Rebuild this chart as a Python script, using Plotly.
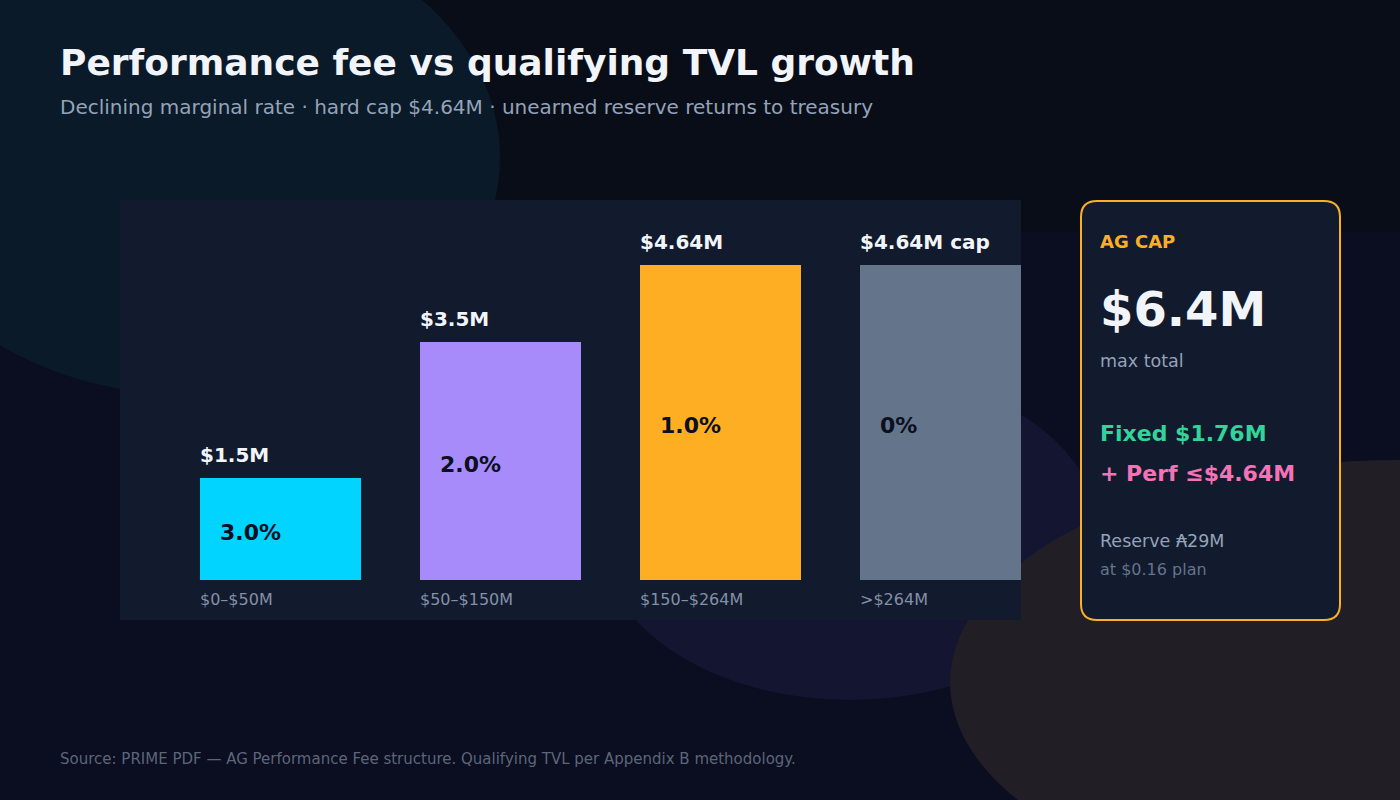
import plotly.graph_objects as go

# ---------------- data ----------------
tiers = ["$0–$50M", "$50–$150M", "$150–$264M", ">$264M"]
cum_fee_m = [1.5, 3.5, 4.64, 4.64]
value_labels = ["$1.5M", "$3.5M", "$4.64M", "$4.64M cap"]
marginal_rates = ["3.0%", "2.0%", "1.0%", "0%"]
bar_colors = ["#00d4ff", "#a78bfa", "#fdae22", "#64748b"]

card_title = "AG CAP"
card_total = "$6.4M"
card_total_sub = "max total"
card_fixed = "Fixed $1.76M"
card_perf = "+ Perf ≤$4.64M"
card_reserve = "Reserve ₳29M"
card_reserve_sub = "at $0.16 plan"

title = "Performance fee vs qualifying TVL growth"
subtitle = "Declining marginal rate · hard cap $4.64M · unearned reserve returns to treasury"
footer = "Source: PRIME PDF — AG Performance Fee structure. Qualifying TVL per Appendix B methodology."

# ---------------- layout helpers ----------------
W, H = 1400, 800
FONT = "DejaVu Sans"


def px(x):
    return x / W


def py(y):
    return 1 - y / H


x_pos = list(range(len(tiers)))
bar_w = 0.732

fig = go.Figure(
    go.Bar(
        x=x_pos,
        y=cum_fee_m,
        width=bar_w,
        marker=dict(color=bar_colors, line=dict(width=0)),
        hoverinfo="skip",
    )
)

shapes = []
# background band
shapes.append(dict(type="rect", xref="paper", yref="paper", x0=0, x1=1, y0=py(800), y1=py(232),
                   fillcolor="#0b0d20", line=dict(width=0), layer="below"))
# teal blob
shapes.append(dict(type="circle", xref="paper", yref="paper", x0=px(-120), x1=px(500), y0=py(395), y1=py(-80),
                   fillcolor="#0a1a29", line=dict(width=0), layer="below"))
# purple blob
shapes.append(dict(type="circle", xref="paper", yref="paper", x0=px(600), x1=px(1100), y0=py(700), y1=py(370),
                   fillcolor="#141530", line=dict(width=0), layer="below"))
# brown blob
shapes.append(dict(type="circle", xref="paper", yref="paper", x0=px(950), x1=px(1850), y0=py(905), y1=py(460),
                   fillcolor="#211e26", line=dict(width=0), layer="below"))
# chart panel
shapes.append(dict(type="rect", xref="paper", yref="paper", x0=px(120), x1=px(1021), y0=py(620), y1=py(200),
                   fillcolor="#121a2e", line=dict(width=0), layer="below"))

# card rounded rect
cx0, cy0, cx1, cy1, r = 1081, 201, 1340, 620, 16
path = (
    f"M {px(cx0 + r)} {py(cy0)} L {px(cx1 - r)} {py(cy0)} "
    f"Q {px(cx1)} {py(cy0)} {px(cx1)} {py(cy0 + r)} "
    f"L {px(cx1)} {py(cy1 - r)} Q {px(cx1)} {py(cy1)} {px(cx1 - r)} {py(cy1)} "
    f"L {px(cx0 + r)} {py(cy1)} Q {px(cx0)} {py(cy1)} {px(cx0)} {py(cy1 - r)} "
    f"L {px(cx0)} {py(cy0 + r)} Q {px(cx0)} {py(cy0)} {px(cx0 + r)} {py(cy0)} Z"
)
shapes.append(dict(type="path", xref="paper", yref="paper", path=path,
                   fillcolor="#121a2e", line=dict(color="#fbaf24", width=2), layer="below"))

annotations = []


def txt(x, y, text, size, color, bold=False):
    annotations.append(dict(
        xref="paper", yref="paper", x=px(x), y=py(y), text=(f"<b>{text}</b>" if bold else text),
        showarrow=False, xanchor="left", yanchor="middle",
        font=dict(family=FONT, size=size, color=color),
    ))


txt(58, 62, title, 36, "#f1f5f9", bold=True)
txt(58, 107, subtitle, 20, "#94a3b8")
txt(58, 759, footer, 15, "#5c6679")

txt(1098, 241, card_title, 18, "#fbaf24", bold=True)
txt(1098, 309, card_total, 48, "#f1f5f9", bold=True)
txt(1098, 361, card_total_sub, 17.5, "#94a3b8")
txt(1098, 433, card_fixed, 22, "#34d399", bold=True)
txt(1098, 473, card_perf, 22, "#f472b6", bold=True)
txt(1098, 541, card_reserve, 17.5, "#94a3b8")
txt(1098, 569, card_reserve_sub, 16, "#64748b")

for i, (v, vl, rate, tier) in enumerate(zip(cum_fee_m, value_labels, marginal_rates, tiers)):
    left = x_pos[i] - bar_w / 2
    annotations.append(dict(x=left, y=v, xref="x", yref="y", text=f"<b>{vl}</b>", showarrow=False,
                            xanchor="left", yanchor="middle", xshift=-2, yshift=23,
                            font=dict(family=FONT, size=20, color="#f1f5f9")))
    annotations.append(dict(x=left, y=v / 2, xref="x", yref="y", text=f"<b>{rate}</b>", showarrow=False,
                            xanchor="left", yanchor="middle", xshift=18, yshift=-3,
                            font=dict(family=FONT, size=22, color="#0b1020")))
    annotations.append(dict(x=left, y=0, xref="x", yref="y", text=tier, showarrow=False,
                            xanchor="left", yanchor="middle", xshift=-2, yshift=-19,
                            font=dict(family=FONT, size=16, color="#8390a6")))

fig.update_layout(
    width=W, height=H,
    margin=dict(l=0, r=0, t=0, b=0),
    paper_bgcolor="#090d18",
    plot_bgcolor="rgba(0,0,0,0)",
    showlegend=False,
    bargap=0,
    shapes=shapes,
    annotations=annotations,
    xaxis=dict(domain=[px(120), px(1021)], range=[-0.7295, 3.366], visible=False, fixedrange=True),
    yaxis=dict(domain=[1 - 620 / H, 1 - 200 / H], range=[-0.589, 5.597], visible=False, fixedrange=True),
)

fig.write_html("out.html", config={"displayModeBar": False})
